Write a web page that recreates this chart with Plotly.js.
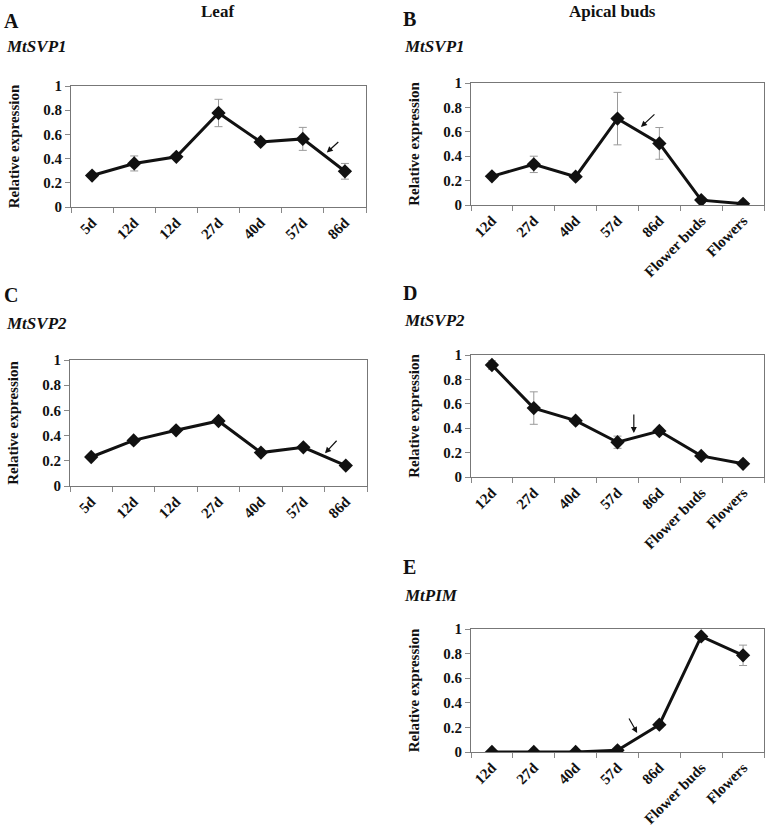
<!DOCTYPE html>
<html>
<head>
<meta charset="utf-8">
<script src="https://cdn.plot.ly/plotly-3.0.1.min.js"></script>
<style>html,body{margin:0;padding:0;background:#fff;}#chart{width:767px;height:832px;}</style>
</head>
<body>
<div id="chart"></div>
<script>
// ---- data ----
const leafLabels = ["5d", "12d", "12d", "27d", "40d", "57d", "86d"];
const budLabels = ["12d", "27d", "40d", "57d", "86d", "Flower buds", "Flowers"];

const leafSVP1 = [0.26, 0.36, 0.415, 0.777, 0.538, 0.563, 0.295];
const leafSVP1Err = [0.01, 0.062, 0.02, 0.113, 0.012, 0.095, 0.065];

const budSVP1 = [0.235, 0.333, 0.232, 0.708, 0.505, 0.04, 0.01];
const budSVP1Err = [0.012, 0.067, 0.01, 0.215, 0.13, 0.01, 0.005];

const leafSVP2 = [0.23, 0.362, 0.442, 0.516, 0.265, 0.307, 0.162];
const leafSVP2Err = [0.01, 0.015, 0.015, 0.015, 0.012, 0.012, 0.01];

const budSVP2 = [0.918, 0.565, 0.462, 0.285, 0.377, 0.173, 0.108];
const budSVP2Err = [0.035, 0.133, 0.02, 0.05, 0.012, 0.018, 0.01];

const budPIM = [0.001, 0.001, 0.001, 0.014, 0.222, 0.94, 0.786];
const budPIMErr = [0.002, 0.002, 0.002, 0.004, 0.02, 0.01, 0.083];

const FONT = "Liberation Serif, Times New Roman, serif";

function idx(labels) { return labels.map((_, i) => i); }
function bounds(labels) { return labels.map((_, i) => i - 0.5).concat([labels.length - 0.5]); }

function trace(labels, y, err, xa, ya) {
  return {
    x: idx(labels), y: y, xaxis: xa, yaxis: ya, type: "scatter", mode: "lines+markers",
    line: {color: "#111", width: 3},
    marker: {symbol: "diamond", size: 11, color: "#111"},
    error_y: {type: "data", array: err, visible: true, color: "#9a9a9a", thickness: 1, width: 4},
    showlegend: false, hoverinfo: "skip"
  };
}

function xaxis(labels, domain, anchor) {
  return {
    domain: domain, anchor: anchor, range: [-0.5, labels.length - 0.5],
    tickmode: "array", tickvals: idx(labels), ticktext: labels, ticks: "",
    tickangle: -45, tickfont: {family: FONT, size: 15, color: "#111", weight: "bold"},
    minor: {tickmode: "array", tickvals: bounds(labels), ticks: "outside", ticklen: 5, tickcolor: "#888", tickwidth: 1, showgrid: false},
    showline: true, linecolor: "#777", linewidth: 1, mirror: true,
    showgrid: false, zeroline: false, fixedrange: true
  };
}

function yaxis(domain, anchor) {
  return {
    domain: domain, anchor: anchor, range: [0, 1], tickmode: "linear", tick0: 0, dtick: 0.2,
    ticks: "outside", ticklen: 5, tickcolor: "#888",
    tickfont: {family: FONT, size: 15, color: "#111", weight: "bold"},
    showline: true, linecolor: "#777", linewidth: 1, mirror: true,
    showgrid: false, zeroline: false, fixedrange: true,
    title: {text: "Relative expression", font: {family: FONT, size: 15, color: "#111", weight: "bold"}, standoff: 20}
  };
}

const H = 832, W = 767;
const px = v => v / W;
const py = v => 1 - v / H;

const data = [
  trace(leafLabels, leafSVP1, leafSVP1Err, "x", "y"),
  trace(budLabels, budSVP1, budSVP1Err, "x2", "y2"),
  trace(leafLabels, leafSVP2, leafSVP2Err, "x3", "y3"),
  trace(budLabels, budSVP2, budSVP2Err, "x4", "y4"),
  trace(budLabels, budPIM, budPIMErr, "x5", "y5")
];

const L = [px(71), px(366)];
const R = [px(471), px(764)];

function txt(text, x, y, size, italic, anchor) {
  return {text: text, xref: "paper", yref: "paper", x: px(x), y: py(y), xanchor: anchor || "left", yanchor: "middle",
    showarrow: false, font: {family: FONT, size: size, color: "#111", weight: "bold", style: italic ? "italic" : "normal"}};
}
function arrow(xa, ya, x, y, ax, ay) {
  return {xref: xa, yref: ya, x: x, y: y, ax: ax, ay: ay, text: "", showarrow: true,
    arrowhead: 2, arrowsize: 1, arrowwidth: 1.2, arrowcolor: "#111"};
}

const layout = {
  width: W, height: H, margin: {l: 0, r: 0, t: 0, b: 0},
  paper_bgcolor: "#fff", plot_bgcolor: "#fff", showlegend: false,
  xaxis: xaxis(leafLabels, L, "y"), yaxis: yaxis([py(207), py(86)], "x"),
  xaxis2: xaxis(budLabels, R, "y2"), yaxis2: yaxis([py(205), py(83)], "x2"),
  xaxis3: xaxis(leafLabels, [px(70), px(367)], "y3"), yaxis3: yaxis([py(486), py(360)], "x3"),
  xaxis4: xaxis(budLabels, R, "y4"), yaxis4: yaxis([py(477), py(355)], "x4"),
  xaxis5: xaxis(budLabels, R, "y5"), yaxis5: yaxis([py(752), py(629)], "x5"),
  annotations: [
    txt("Leaf", 217, 11, 17, false, "center"),
    txt("Apical buds", 612, 11, 17, false, "center"),
    txt("A", 2, 21, 20, false),
    txt("<i>MtSVP1</i>", 4, 47, 17, true),
    txt("B", 401, 19, 20, false),
    txt("<i>MtSVP1</i>", 402, 46, 17, true),
    txt("C", 2, 295, 20, false),
    txt("<i>MtSVP2</i>", 4, 323, 17, true),
    txt("D", 401, 293, 20, false),
    txt("<i>MtSVP2</i>", 402, 320, 17, true),
    txt("E", 401, 567, 20, false),
    txt("<i>MtPIM</i>", 402, 595, 17, true),
    arrow("x", "y", 5.57, 0.45, 13, -12),
    arrow("x2", "y2", 3.56, 0.64, 15, -14),
    arrow("x3", "y3", 5.51, 0.26, 13, -14),
    arrow("x4", "y4", 3.39, 0.36, 0, -20),
    arrow("x5", "y5", 3.47, 0.155, -9, -16)
  ]
};

Plotly.newPlot("chart", data, layout, {staticPlot: true, displayModeBar: false});
</script>
</body>
</html>
